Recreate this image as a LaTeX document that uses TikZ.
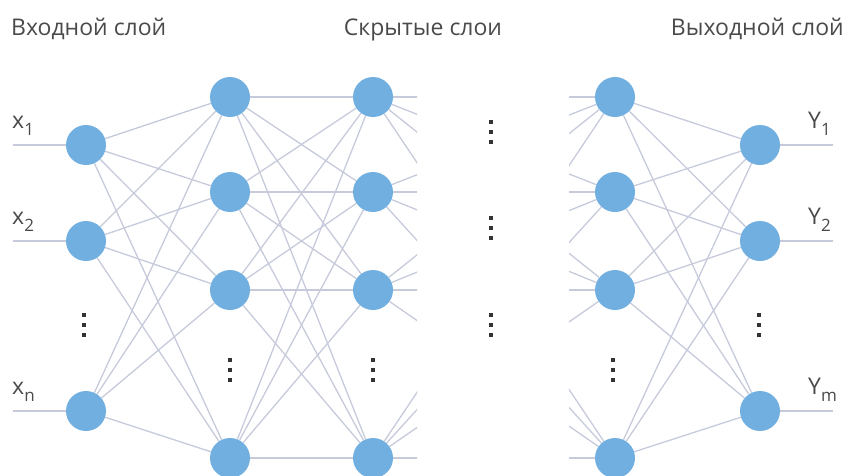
\documentclass[tikz,border=0pt]{standalone}
\usepackage{fontspec}
\setmainfont{Open Sans}
\usetikzlibrary{backgrounds}
\definecolor{nblue}{HTML}{70AFDF}
\definecolor{lgray}{HTML}{C6CADB}
\definecolor{tgray}{HTML}{4A4A4A}
\definecolor{dgray}{HTML}{333333}
\newcommand\lowsub[1]{\raisebox{-7pt}{\fontsize{17}{17}\selectfont #1}}
\begin{document}
\begin{tikzpicture}[x=1pt,y=-1pt,
  neuron/.style={circle,fill=nblue,minimum size=40pt,inner sep=0pt},
  link/.style={draw=lgray,line width=1.3pt},
  hdr/.style={text=tgray,font=\fontsize{23}{25}\selectfont,inner sep=0pt},
  lbl/.style={text=tgray,font=\fontsize{23}{24}\selectfont,inner sep=0pt,anchor=base west},
  vdots/.pic={\foreach \d in {-10,0,10} \fill[dgray] (-2,\d-2) rectangle (2,\d+2);}
]
\useasboundingbox (0,0) rectangle (846,475);

% layer headings
\node[hdr,anchor=base west] (hin)  at (11,35)  {Входной слой};
\node[hdr,anchor=base]      (hhid) at (423,35) {Скрытые слои};
\node[hdr,anchor=base east] (hout) at (844,35) {Выходной слой};

% neurons
\foreach \n/\y in {1/145,2/241,3/411} {
  \node[neuron] (i\n) at (86,\y) {};
  \node[neuron] (o\n) at (760,\y) {};
  \coordinate (in\n) at (13,\y);
  \coordinate (out\n) at (833,\y);
}
\foreach \n/\y in {1/97,2/192,3/290,4/458} {
  \node[neuron] (a\n) at (230,\y) {};
  \node[neuron] (b\n) at (373,\y) {};
  \node[neuron] (c\n) at (615,\y) {};
}

% connections
\begin{scope}[on background layer]
  \foreach \i in {1,2,3} \draw[link] (in\i) -- (i\i);
  \foreach \i in {1,2,3} \draw[link] (o\i) -- (out\i);
  \foreach \i in {1,2,3} \foreach \j in {1,...,4} \draw[link] (i\i) -- (a\j);
  \foreach \i in {1,...,4} \foreach \j in {1,...,4} \draw[link] (a\i) -- (b\j);
  \foreach \i in {1,...,4} \foreach \j in {1,2,3} \draw[link] (c\i) -- (o\j);
  \begin{scope}
    \clip (373,0) rectangle (417,475);
    \foreach \i in {1,...,4} \foreach \j in {1,...,4} \draw[link] (b\i) -- (c\j);
  \end{scope}
  \begin{scope}
    \clip (569,0) rectangle (615,475);
    \foreach \i in {1,...,4} \foreach \j in {1,...,4} \draw[link] (b\i) -- (c\j);
  \end{scope}
\end{scope}

% ellipsis marks
\pic at (84,325) {vdots};
\pic at (230,370) {vdots};
\pic at (373,370) {vdots};
\pic at (491,132) {vdots};
\pic at (491,228) {vdots};
\pic at (491,325) {vdots};
\pic at (613,370) {vdots};
\pic at (759,325) {vdots};

% input and output labels
\node[lbl] (lx1) at (12,128) {x\lowsub{1}};
\node[lbl] (lx2) at (12,224) {x\lowsub{2}};
\node[lbl] (lxn) at (12,394) {x\lowsub{n}};
\node[lbl] (ly1) at (808,128) {Y\lowsub{1}};
\node[lbl] (ly2) at (808,224) {Y\lowsub{2}};
\node[lbl] (lym) at (808,394) {Y\lowsub{m}};
\end{tikzpicture}
\end{document}
